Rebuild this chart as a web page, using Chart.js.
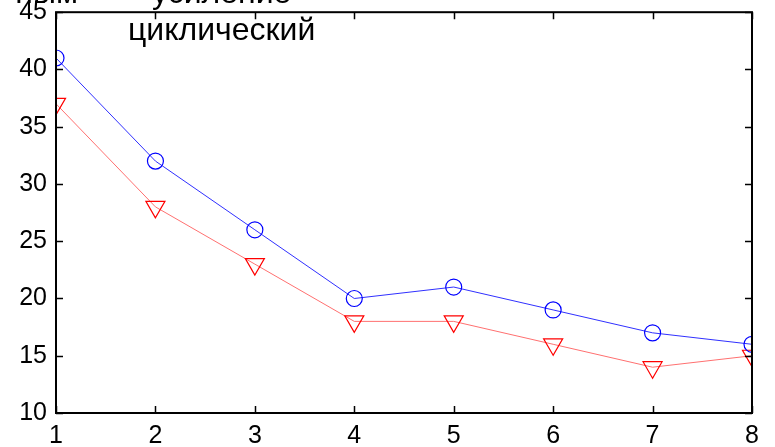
<!DOCTYPE html>
<html>
<head>
<meta charset="utf-8">
<script src="https://cdn.jsdelivr.net/npm/chart.js@4.4.1/dist/chart.umd.min.js"></script>
<style>
  html, body { margin: 0; padding: 0; background: #fff; }
  #wrap { width: 775px; height: 447px; }
</style>
</head>
<body>
<div id="wrap"><canvas id="chart"></canvas></div>
<script>
const steps = [1, 2, 3, 4, 5, 6, 7, 8];
const circleValues = [41, 32, 26, 20, 21, 19, 17, 16];
const triangleValues = [37, 28, 23, 18, 18, 16, 14, 15];
const yTickValues = [10, 15, 20, 25, 30, 35, 40, 45];
const captions = ['ным', 'усиление', 'циклический'];

const fontFamily = 'Arial, "Liberation Sans", sans-serif';

// MATLAB-style box with inward ticks on all four sides
const boxPlugin = {
  id: 'box',
  afterDatasetsDraw(chart) {
    const { ctx, chartArea: a, scales: { x, y } } = chart;
    const len = 7;
    ctx.save();
    ctx.strokeStyle = '#000';
    ctx.lineWidth = 1.5;
    ctx.beginPath();
    steps.forEach((v) => {
      const px = Math.round(x.getPixelForValue(v)) + 0.5;
      ctx.moveTo(px, a.bottom);
      ctx.lineTo(px, a.bottom - len);
      ctx.moveTo(px, a.top);
      ctx.lineTo(px, a.top + len);
    });
    yTickValues.forEach((v) => {
      const py = Math.round(y.getPixelForValue(v)) + 0.5;
      ctx.moveTo(a.left, py);
      ctx.lineTo(a.left + len, py);
      ctx.moveTo(a.right, py);
      ctx.lineTo(a.right - len, py);
    });
    ctx.stroke();
    ctx.lineWidth = 2;
    ctx.strokeRect(a.left, a.top, a.right - a.left, a.bottom - a.top);
    ctx.restore();
  },
  afterDraw(chart) {
    const { ctx } = chart;
    ctx.save();
    ctx.fillStyle = '#000';
    ctx.font = `32px ${fontFamily}`;
    ctx.textBaseline = 'alphabetic';
    ctx.textAlign = 'right';
    ctx.fillText(captions[0], 78, 3);
    ctx.textAlign = 'left';
    ctx.fillText(captions[1], 152, 3);
    ctx.fillText(captions[2], 128, 40);
    ctx.restore();
  }
};

new Chart(document.getElementById('chart'), {
  type: 'line',
  data: {
    datasets: [
      {
        data: steps.map((s, i) => ({ x: s, y: circleValues[i] })),
        borderColor: '#3030ff',
        borderWidth: 1,
        pointStyle: 'circle',
        pointRadius: 8,
        pointBorderColor: '#0000ff',
        pointBackgroundColor: 'rgba(0,0,0,0)',
        pointBorderWidth: 1.2,
        tension: 0
      },
      {
        data: steps.map((s, i) => ({ x: s, y: triangleValues[i] })),
        borderColor: '#ff7070',
        borderWidth: 1,
        pointStyle: 'triangle',
        pointRotation: 180,
        pointRadius: 11,
        pointBorderColor: '#ff0000',
        pointBackgroundColor: 'rgba(0,0,0,0)',
        pointBorderWidth: 1.2,
        tension: 0
      }
    ]
  },
  options: {
    responsive: true,
    maintainAspectRatio: false,
    animation: false,
    layout: { padding: { top: 10, right: 23, left: 0, bottom: 0 } },
    plugins: {
      legend: { display: false },
      tooltip: { enabled: false }
    },
    scales: {
      x: {
        type: 'linear',
        min: 1,
        max: 8,
        grid: { display: false },
        border: { display: false },
        ticks: {
          stepSize: 1,
          padding: 0,
          color: '#000',
          font: { family: fontFamily, size: 25 },
          maxRotation: 0
        },
        afterFit(scale) {
          scale.height = 34;
          scale.paddingLeft = 0;
          scale.paddingRight = 0;
        }
      },
      y: {
        min: 10,
        max: 45,
        grid: { display: false },
        border: { display: false },
        ticks: {
          stepSize: 5,
          padding: 1,
          color: '#000',
          font: { family: fontFamily, size: 25 }
        },
        afterFit(scale) {
          scale.width = 56;
          scale.paddingTop = 0;
          scale.paddingBottom = 0;
        }
      }
    }
  },
  plugins: [boxPlugin]
});
</script>
</body>
</html>
